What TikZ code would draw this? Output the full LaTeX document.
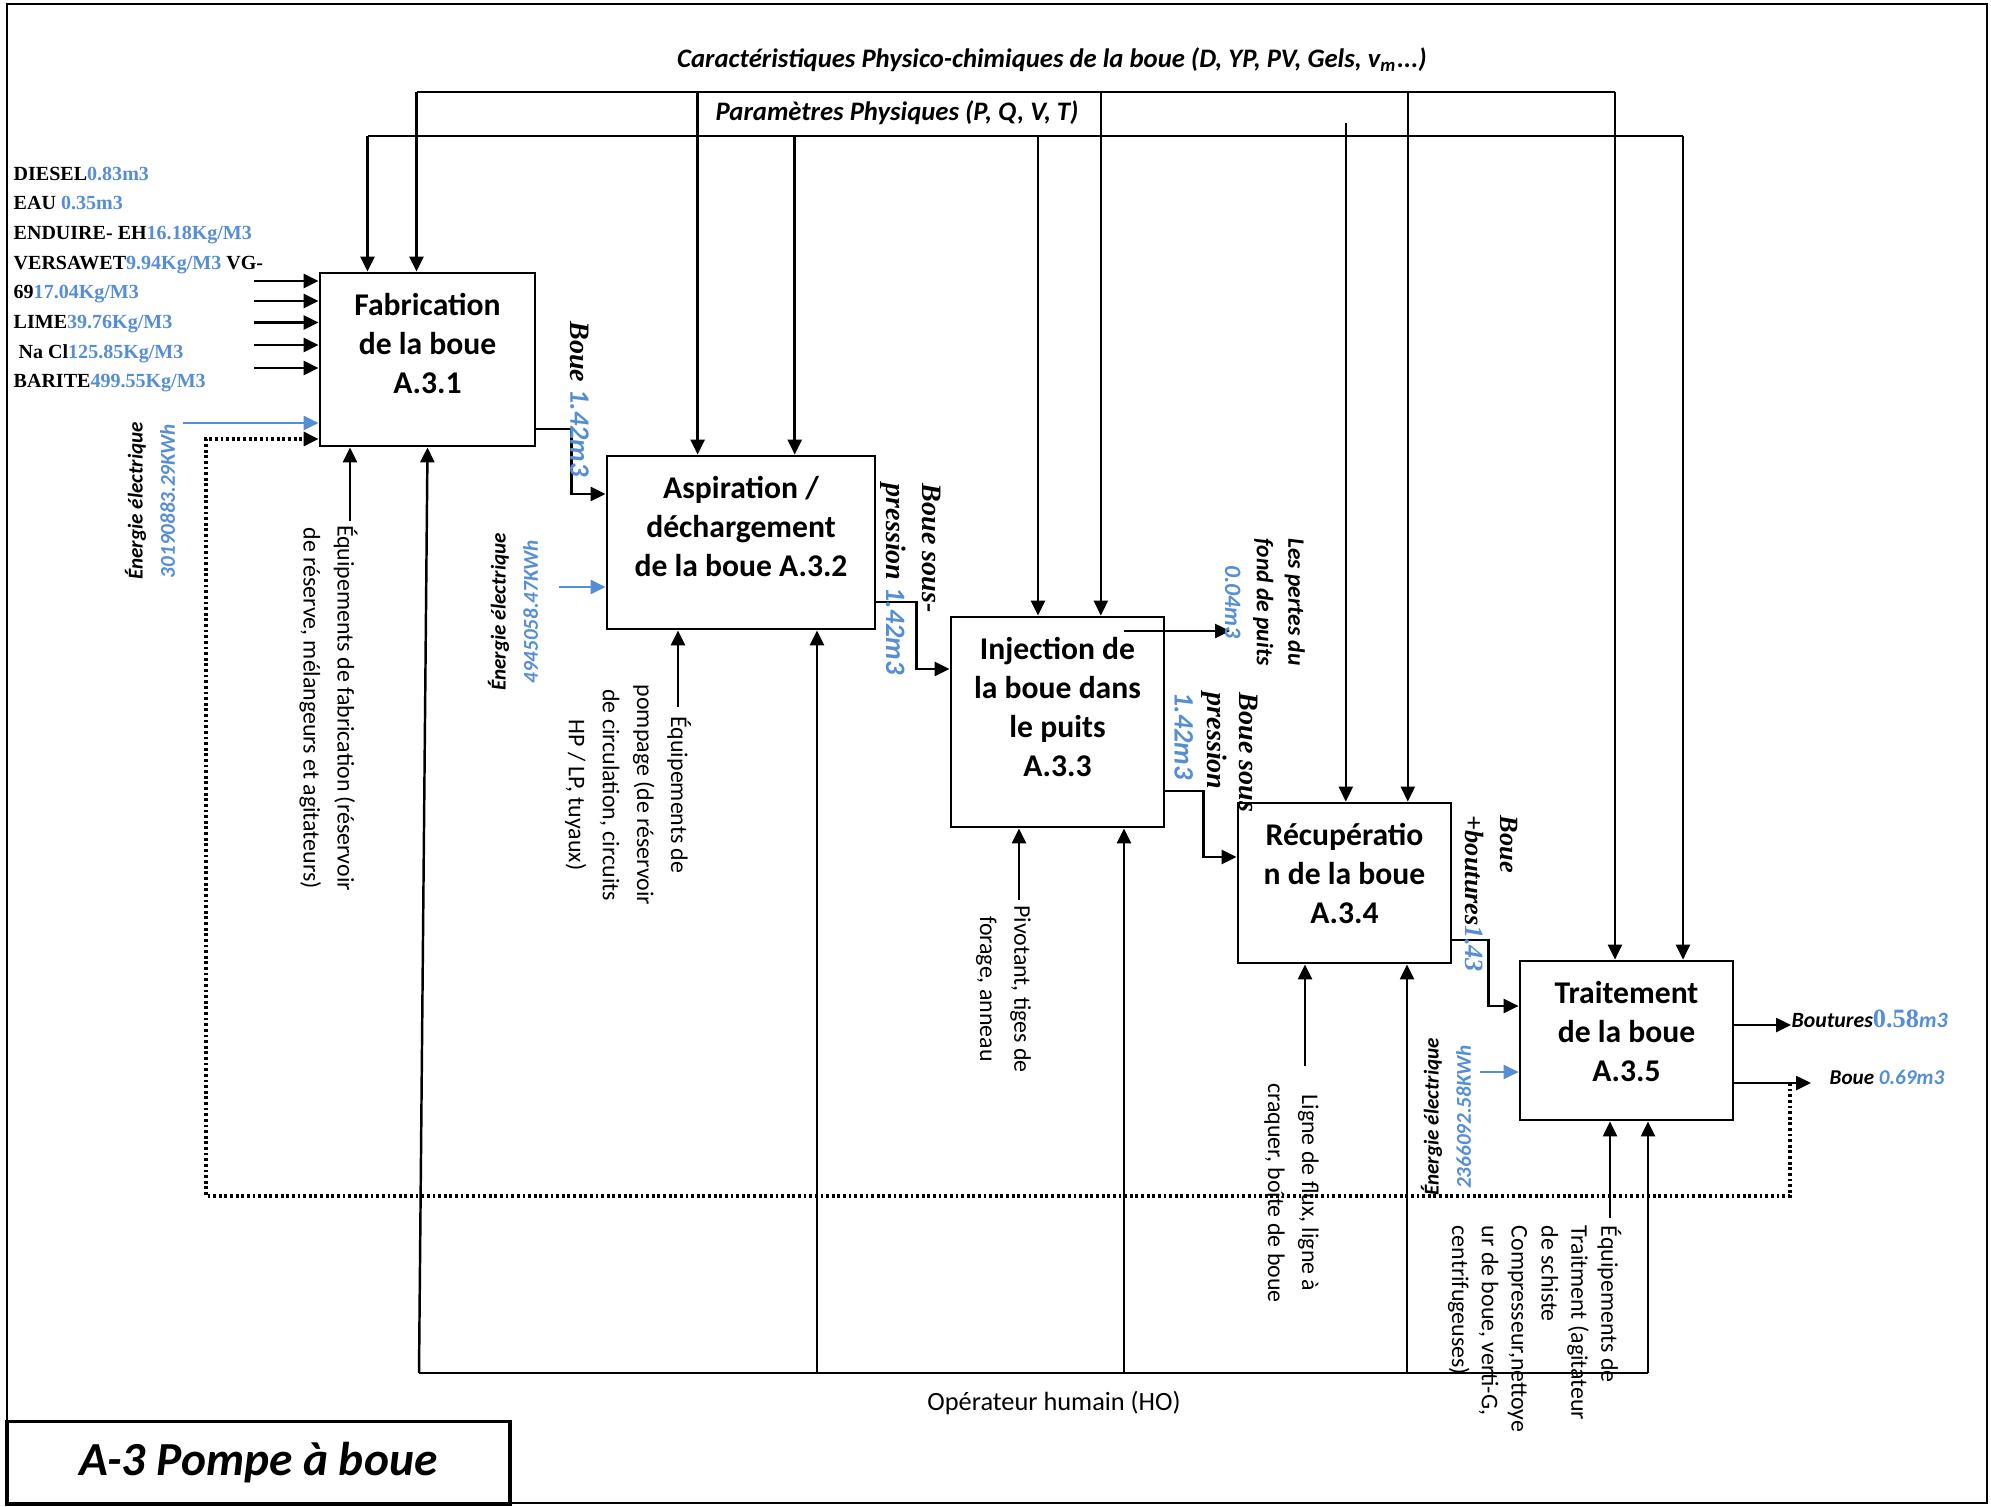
\documentclass[tikz,border=0pt]{standalone}
\usepackage{fontspec}
\setmainfont{Carlito}
\newfontfamily\serifbd{Liberation Serif}
\usetikzlibrary{positioning,arrows.meta}
\definecolor{valblue}{RGB}{85,142,213}
\newcommand{\blu}[1]{{\color{valblue}#1}}
\newcommand{\sblu}[1]{{\rmfamily\color{valblue}#1}}

\begin{document}
\begin{tikzpicture}[x=0.1mm, y=-0.1mm,
  flow/.style={line width=0.7pt, -{Triangle[length=1.5mm,width=1.4mm]}},
  eflow/.style={flow, valblue},
  fback/.style={line width=0.9pt, dash pattern=on 0.8pt off 0.8pt, -{Triangle[length=1.5mm,width=1.4mm]}}]
\tikzstyle{procbox}=[draw, line width=0.8pt, inner sep=0pt]
\tikzstyle{proctxt}=[inner sep=0pt, align=center, font=\fontsize{9}{11.1}\selectfont\bfseries]
\tikzstyle{mechlbl}=[inner sep=0pt, rotate=-90, align=center, font=\fontsize{6.8}{9.7}\selectfont]
\tikzstyle{enlbl}=[inner sep=0pt, rotate=90, align=center, font=\fontsize{6}{9.2}\selectfont\bfseries\itshape]
\tikzstyle{flowlbl}=[inner sep=0pt, rotate=-90, align=left, anchor=north west]
\tikzstyle{toplbl}=[inner sep=0pt, font=\fontsize{7.6}{9}\selectfont\bfseries\itshape]
\useasboundingbox (0,0) rectangle (1991,1506);
\draw[line width=0.8pt] (7,4) rectangle (1987,1503);

% activities
\node[procbox, minimum width=21.5mm, minimum height=17.3mm] (a31) at (427.5,359.5) {};
\node[procbox, minimum width=26.8mm, minimum height=17.3mm] (a32) at (741,542.5) {};
\node[procbox, minimum width=21.3mm, minimum height=21mm] (a33) at (1057.5,722) {};
\node[procbox, minimum width=21.3mm, minimum height=16mm] (a34) at (1344.5,883) {};
\node[procbox, minimum width=21.3mm, minimum height=15.9mm] (a35) at (1626.5,1040.5) {};
\node[proctxt, below=2.05mm of a31.north] (t31) {Fabrication\\de la boue\\A.3.1};
\node[proctxt, below=2.05mm of a32.north] (t32) {Aspiration /\\déchargement\\de la boue A.3.2};
\node[proctxt, below=2.05mm of a33.north] (t33) {Injection de\\la boue dans\\le puits\\A.3.3};
\node[proctxt, below=2.05mm of a34.north] (t34) {Récupératio\\n de la boue\\A.3.4};
\node[proctxt, below=2.05mm of a35.north] (t35) {Traitement\\de la boue\\A.3.5};

% controls
\node[toplbl] (car) at (1052,60) {Caractéristiques Physico-chimiques de la boue (D, YP, PV, Gels, v\textsubscript{m}...)};
\node[toplbl] (par) at (897,113) {Paramètres Physiques (P, Q, V, T)};
\coordinate (car1) at (416.5,92); \coordinate (car2) at (1615,92);
\coordinate (par1) at (367.5,136); \coordinate (par2) at (1683,136);
\draw[line width=0.7pt] (car1) -- (car2);
\draw[line width=0.7pt] (par1) -- (par2);
\foreach \x/\b in {416.5/a31,697.6/a32,1100.8/a33,1407.8/a34,1615/a35}
  {\coordinate (c\b) at (\x,92); \draw[flow] (c\b) -- (c\b |- \b.north);}
\foreach \x/\b in {367.5/a31,794.7/a32,1038/a33,1683/a35}
  {\coordinate (p\b) at (\x,136); \draw[flow] (p\b) -- (p\b |- \b.north);}
\coordinate (pa34) at (1345.8,123); \draw[flow] (pa34) -- (pa34 |- a34.north);

% inputs
\node[inner sep=0pt, align=left, anchor=north west, font=\serifbd\fontsize{5.7}{8.45}\selectfont\bfseries] (inp) at (13,166)
  {DIESEL\blu{0.83m3}\\EAU \blu{0.35m3}\\ENDUIRE- EH\blu{16.18Kg/M3}\\VERSAWET\blu{9.94Kg/M3} VG-\\69\blu{17.04Kg/M3}\\LIME\blu{39.76Kg/M3}\\\hspace*{0.5mm}Na Cl\blu{125.85Kg/M3}\\BARITE\blu{499.55Kg/M3}};
\foreach \y [count=\i] in {281,301,322.5,345,368}
  {\coordinate (in\i) at (254,\y); \draw[flow] (in\i) -- (in\i -| a31.west);}

% electric energy
\coordinate (e31) at (183,423); \draw[eflow] (e31) -- (e31 -| a31.west);
\coordinate (e32) at (559,587); \draw[eflow] (e32) -- (e32 -| a32.west);
\coordinate (e35) at (1480,1072); \draw[eflow] (e35) -- (e35 -| a35.west);
\node[enlbl] (en31) at (150,501) {Énergie électrique\\\blu{30190883.29KWh}};
\node[enlbl] (en32) at (513,612) {Énergie électrique\\\blu{4945058.47KWh}};
\node[enlbl] (en35) at (1446,1117) {Énergie électrique\\\blu{2366092.58KWh}};

% mud flow between activities
\coordinate (o31) at (a31.east |- 0,429); \coordinate (i32) at (a32.west |- 0,494);
\coordinate (o32) at (a32.east |- 0,602); \coordinate (i33) at (a33.west |- 0,669);
\coordinate (o33) at (a33.east |- 0,791); \coordinate (i34) at (a34.west |- 0,857);
\coordinate (o34) at (a34.east |- 0,940); \coordinate (i35) at (a35.west |- 0,1006);
\draw[flow] (o31) -- ++(35,0) |- (i32);
\draw[flow] (o32) -- ++(40,0) |- (i33);
\draw[flow] (o33) -- ++(38,0) |- (i34);
\draw[flow] (o34) -- ++(36,0) |- (i35);
\node[flowlbl, anchor=center, font=\serifbd\fontsize{8}{10.5}\selectfont\bfseries\itshape] (l12) at (579.5,399) {Boue \sblu{1.42m3}};
\node[flowlbl, font=\serifbd\fontsize{8}{10.5}\selectfont\bfseries\itshape] (l23) at (942,483) {Boue sous-\\pression \sblu{1.42m3}};
\node[flowlbl, font=\serifbd\fontsize{8}{9.3}\selectfont\bfseries\itshape] (l34) at (1259,692) {Boue sous\\pression\\\sblu{1.42m3}};
\node[flowlbl, font=\serifbd\fontsize{7.5}{9.9}\selectfont\bfseries\itshape] (l45) at (1518,815) {Boue\\+boutures\blu{1.43}};

% losses and outputs
\coordinate (ls1) at (1124,631); \coordinate (ls2) at (1230,631);
\draw[flow] (ls1) -- (ls2);
\node[mechlbl, font=\fontsize{6.7}{9}\selectfont\bfseries\itshape] (lss) at (1265,602) {Les pertes du\\fond de puits\\\blu{0.04m3}};
\coordinate (ob1) at (1791,1025); \draw[flow] (a35.east |- ob1) -- (ob1);
\coordinate (ob2) at (1811,1083); \draw[flow] (a35.east |- ob2) -- (ob2);
\node[anchor=west, inner sep=0pt, font=\fontsize{6.2}{8}\selectfont\bfseries\itshape] (ob1l) at (1791,1019)
  {Boutures{\serifbd\upshape\fontsize{7.5}{9}\selectfont\color{valblue}0.58}\blu{m3}};
\node[anchor=west, inner sep=0pt, font=\fontsize{6}{8}\selectfont\bfseries\itshape] (ob2l) at (1829,1077) {Boue \blu{0.69m3}};
\coordinate (fb1) at (1790,1083); \coordinate (fb2) at (206,1196);
\draw[fback] (fb1) |- (fb2) |- (a31.west |- 0,439);

% mechanisms
\foreach \x/\y/\b in {350/521/a31,678/707/a32,1019/900/a33,1305/1066/a34,1610/1218/a35}
  {\coordinate (m\b) at (\x,\y); \draw[flow] (m\b) -- (m\b |- \b.south);}
\node[mechlbl] (me31) at (328.5,708) {Équipements de fabrication (réservoir\\de réserve, mélangeurs et agitateurs)};
\node[mechlbl] (me32) at (628,795) {Équipements de\\pompage (de réservoir\\de circulation, circuits\\HP / LP, tuyaux)};
\node[mechlbl] (me33) at (1003.5,989) {Pivotant, tiges de\\forage, anneau};
\node[mechlbl] (me34) at (1291.5,1193) {Ligne de flux, ligne à\\craquer, boîte de boue};
\node[mechlbl, align=left, anchor=north west, font=\fontsize{6.8}{8.5}\selectfont] (me35) at (1622,1225)
  {Équipements de\\Traitment (agitateur\\de schiste\\Compresseur,nettoye\\ur de boue, verti-G,\\centrifugeuses)};

% operator
\coordinate (ho1) at (419,1373); \coordinate (ho2) at (1648,1373);
\draw[line width=0.7pt] (ho1) -- (ho2);
\draw[flow] (ho1) -- (a31.south);
\foreach \x/\b in {817/a32,1124/a33,1407/a34,1648/a35}
  {\coordinate (h\b) at (\x,1373); \draw[flow] (h\b) -- (h\b |- \b.south);}
\node[inner sep=0pt, font=\fontsize{7.5}{9}\selectfont] (ho) at (1054,1403) {Opérateur humain (HO)};

% title
\node[draw, line width=1pt, minimum width=50.3mm, minimum height=8.3mm, inner sep=0pt,
  font=\fontsize{13.5}{16}\selectfont\bfseries\itshape] (ttl) at (258.5,1463) {A-3 Pompe à boue};
\end{tikzpicture}
\end{document}
